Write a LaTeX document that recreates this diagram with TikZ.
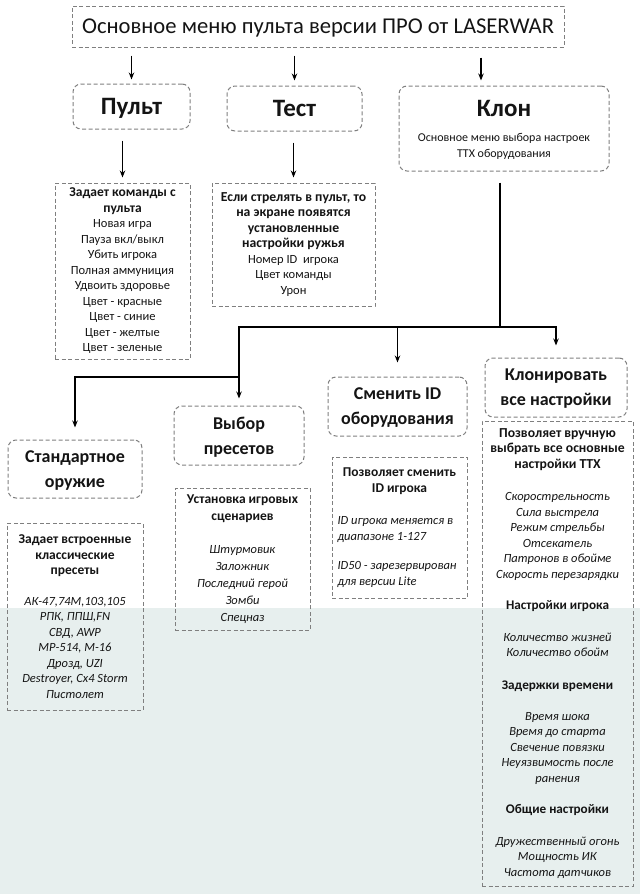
\documentclass[tikz,border=0pt]{standalone}
\usepackage{fontspec}
\setmainfont{Carlito}
\usetikzlibrary{arrows.meta}
\definecolor{cframe}{HTML}{7F7F7F}
\definecolor{cink}{HTML}{141414}
\definecolor{cshade}{HTML}{E7EFEE}

\begin{document}
\begin{tikzpicture}[
  x=1pt, y=-1pt,
  every node/.style={text=cink},
  frame/.style={draw=cframe, dash pattern=on 4pt off 2.5pt, line width=1pt,
                align=center, inner sep=0pt},
  menu/.style={frame, rounded corners=8pt},
  info/.style={frame, font=\fontsize{12.5}{15.5}\selectfont},
  big/.style={font=\bfseries\fontsize{25}{28}\selectfont, text height=16pt, text depth=0pt},
  mid/.style={font=\bfseries\fontsize{18}{25}\selectfont, text depth=0pt},
  flow/.style={-{Stealth[length=7pt, width=5.5pt]}, line width=1.2pt, draw=black},
  wire/.style={line width=1.2pt, draw=black}
]
\useasboundingbox (0,0) rectangle (640,894);
\fill[cshade] (0,608) rectangle (640,894);

% top level
\node[frame, minimum width=492pt, minimum height=41pt, text height=14.5pt, text depth=0pt,
      font=\fontsize{22.6}{24}\selectfont] (title) at (318,26.5)
      {Основное меню пульта версии ПРО от LASERWAR};
\node[menu, big, minimum width=117pt, minimum height=45pt] (pult) at (131.5,106.5) {Пульт};
\node[menu, big, minimum width=135pt, minimum height=45pt] (test) at (294.5,108.5) {Тест};
\node[menu, minimum width=210pt, minimum height=85pt, text depth=0pt,
      font=\fontsize{12}{16}\selectfont] (klon) at (504,128.5)
      {{\bfseries\fontsize{25}{28}\selectfont Клон}\\[9pt]
       Основное меню выбора настроек\\ТТХ оборудования};

\draw[flow, shorten <=8pt, shorten >=4pt] (title.south -| pult.north) -- (pult.north);
\draw[flow, shorten <=8pt, shorten >=5pt] (title.south -| test.north) -- (test.north);
\draw[flow, shorten <=10pt, shorten >=5pt] ([xshift=-23pt]klon.north |- title.south) -- ([xshift=-23pt]klon.north);

% Pult / Test details
\node[info, minimum width=135pt, minimum height=176pt] (pultinfo) at (122.5,271)
  {{\fontsize{13.5}{15.5}\selectfont\bfseries Задает команды с}\\
   {\fontsize{13.5}{15.5}\selectfont\bfseries пульта}\\
   Новая игра\\Пауза вкл/выкл\\Убить игрока\\Полная аммуниция\\Удвоить здоровье\\
   Цвет - красные\\Цвет - синие\\Цвет - желтые\\Цвет - зеленые};
\node[info, minimum width=163pt, minimum height=123pt] (testinfo) at (293.5,244.5)
  {{\fontsize{13.7}{16}\selectfont\bfseries Если стрелять в пульт, то}\\
   {\fontsize{13.7}{16}\selectfont\bfseries на экране появятся}\\
   {\fontsize{13.7}{16}\selectfont\bfseries установленные}\\
   {\fontsize{13.7}{16}\selectfont\bfseries настройки ружья}\\
   Номер ID\ \ игрока\\Цвет команды\\Урон};

\draw[flow, shorten <=11pt, shorten >=5pt] (pult.south -| pultinfo.north) -- (pultinfo.north);
\draw[flow, shorten <=11pt, shorten >=5pt] (test.south -| testinfo.north) -- (testinfo.north);

% Klon submenus
\node[menu, mid, minimum width=134pt, minimum height=58pt] (std) at (75,469) {Стандартное\\оружие};
\node[menu, mid, minimum width=130pt, minimum height=59pt] (presets) at (239,435.5) {Выбор\\пресетов};
\node[menu, mid, minimum width=139pt, minimum height=59pt] (chid) at (397.5,406.5) {Сменить ID\\оборудования};
\node[menu, mid, minimum width=142pt, minimum height=59pt] (clone) at (556,387.5) {Клонировать\\все настройки};

\coordinate (split) at (500,327);
\coordinate (knee) at (239,377);
\draw[wire, shorten <=11pt] ([xshift=-4pt]klon.south) -- (split);
\draw[flow, shorten >=12pt] (split) -| (clone);
\draw[flow, shorten >=14pt] (split) -| (chid);
\draw[flow, shorten >=7pt] (split) -| (presets);
\draw[flow, shorten >=12pt] (knee) -| (std);

% submenu details
\node[info, minimum width=136pt, minimum height=187pt] (stdinfo) at (75,616.5)
  {{\fontsize{13.5}{16}\selectfont\bfseries Задает встроенные}\\
   {\fontsize{13.5}{16}\selectfont\bfseries классические}\\
   {\fontsize{13.5}{16}\selectfont\bfseries пресеты}\\[15pt]
   \textit{АК-47,74М,103,105}\\\textit{РПК, ППШ,FN}\\\textit{СВД, AWP}\\
   \textit{МР-514, М-16}\\\textit{Дрозд, UZI}\\\textit{Destroyer, Cx4 Storm}\\\textit{Пистолет}};
\node[info, minimum width=135pt, minimum height=142pt,
      font=\fontsize{12.5}{17}\selectfont] (presetsinfo) at (242.5,559)
  {{\fontsize{13.5}{16}\selectfont\bfseries Установка игровых}\\
   {\fontsize{13.5}{16}\selectfont\bfseries сценариев}\\[16pt]
   \textit{Штурмовик}\\\textit{Заложник}\\\textit{Последний герой}\\\textit{Зомби}\\\textit{Спецназ}};
\node[info, minimum width=135pt, minimum height=141pt] (chidinfo) at (399.5,527.5)
  {{\fontsize{13.5}{15.5}\selectfont\bfseries Позволяет сменить}\\
   {\fontsize{13.5}{15.5}\selectfont\bfseries ID игрока}\\[17pt]
   \makebox[124pt][l]{\textit{ID игрока меняется в}}\\
   \makebox[124pt][l]{\textit{диапазоне 1-127}}\\[14pt]
   \makebox[124pt][l]{\textit{ID50 - зарезервирован}}\\
   \makebox[124pt][l]{\textit{для версии Lite}}};
\node[info, minimum width=151pt, minimum height=465pt] (cloneinfo) at (557.5,653.5)
  {{\fontsize{13.7}{15.5}\selectfont\bfseries Позволяет вручную}\\
   {\fontsize{13.7}{15.5}\selectfont\bfseries выбрать все основные}\\
   {\fontsize{13.7}{15.5}\selectfont\bfseries настройки ТТХ}\\[17pt]
   \textit{Скорострельность}\\\textit{Сила выстрела}\\\textit{Режим стрельбы}\\
   \textit{Отсекатель}\\\textit{Патронов в обойме}\\\textit{Скорость перезарядки}\\[15.5pt]
   {\fontsize{13.2}{15.5}\selectfont\bfseries Настройки игрока}\\[16.5pt]
   \textit{Количество жизней}\\\textit{Количество обойм}\\[17pt]
   {\fontsize{13.2}{15.5}\selectfont\bfseries Задержки времени}\\[15.5pt]
   \textit{Время шока}\\\textit{Время до старта}\\\textit{Свечение повязки}\\
   \textit{Неуязвимость после}\\\textit{ранения}\\[15.5pt]
   {\fontsize{13.2}{15.5}\selectfont\bfseries Общие настройки}\\[16.5pt]
   \textit{Дружественный огонь}\\\textit{Мощность ИК}\\\textit{Частота датчиков}};
\end{tikzpicture}
\end{document}
